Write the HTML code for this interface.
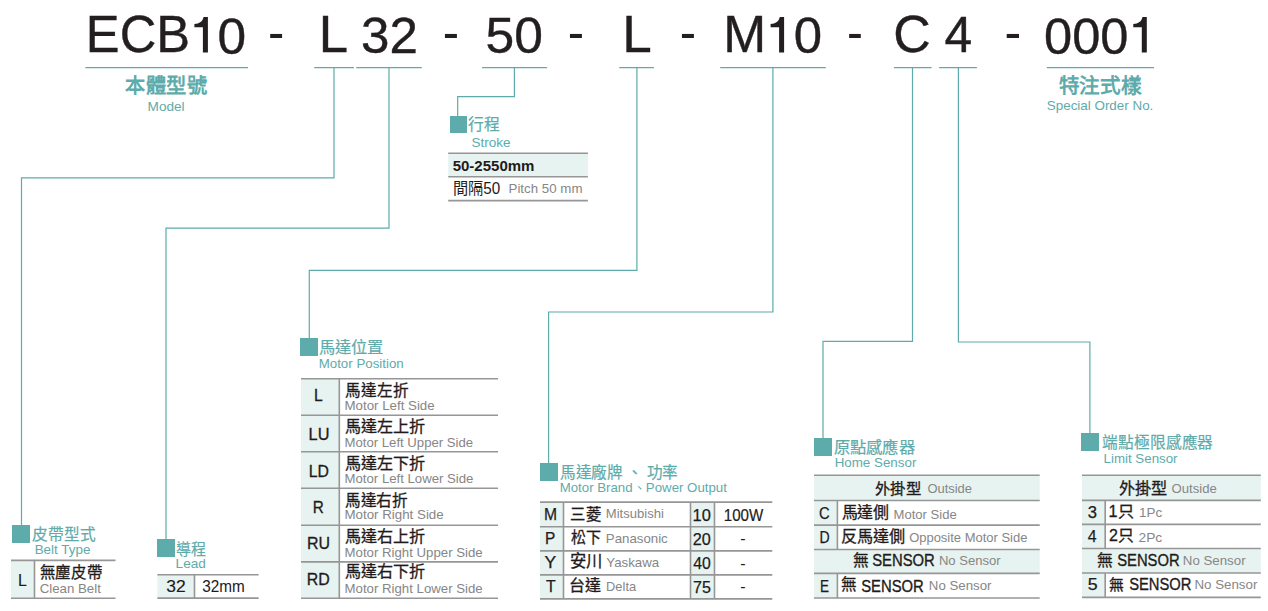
<!DOCTYPE html>
<html lang="zh-TW"><head><meta charset="utf-8"><title>ECB10</title><style>
html,body{margin:0;padding:0;background:#fff;width:1268px;height:611px;overflow:hidden}
svg{display:block;font-family:"Liberation Sans",sans-serif;white-space:pre}
</style></head><body>
<svg width="1268" height="611" viewBox="0 0 1268 611">
<g id="geo">
<rect x="11" y="560.4" width="23.5" height="37.8" fill="#e7f3f0"/>
<rect x="157.4" y="574.8" width="37.1" height="23.3" fill="#e7f3f0"/>
<rect x="448.2" y="153.3" width="139.7" height="23.4" fill="#e7f3f0"/>
<rect x="301" y="378.7" width="38.3" height="36.6" fill="#e7f3f0"/>
<rect x="301" y="415.3" width="38.3" height="36.4" fill="#e7f3f0"/>
<rect x="301" y="451.7" width="38.3" height="36.5" fill="#e7f3f0"/>
<rect x="301" y="488.2" width="38.3" height="37.0" fill="#e7f3f0"/>
<rect x="301" y="525.2" width="38.3" height="36.7" fill="#e7f3f0"/>
<rect x="301" y="561.9" width="38.3" height="36.3" fill="#e7f3f0"/>
<rect x="540" y="502.1" width="23.5" height="24.7" fill="#e7f3f0"/>
<rect x="540" y="526.8" width="23.5" height="24.1" fill="#e7f3f0"/>
<rect x="540" y="550.9" width="23.5" height="24.0" fill="#e7f3f0"/>
<rect x="540" y="574.9" width="23.5" height="24.0" fill="#e7f3f0"/>
<rect x="690.5" y="502.1" width="24.0" height="24.7" fill="#e7f3f0"/>
<rect x="690.5" y="526.8" width="24.0" height="24.1" fill="#e7f3f0"/>
<rect x="690.5" y="550.9" width="24.0" height="24.0" fill="#e7f3f0"/>
<rect x="690.5" y="574.9" width="24.0" height="24.0" fill="#e7f3f0"/>
<rect x="814" y="475.3" width="225.7" height="25.2" fill="#e7f3f0"/>
<rect x="814" y="549.5" width="225.7" height="23.9" fill="#e7f3f0"/>
<rect x="814" y="500.5" width="23.4" height="24.6" fill="#e7f3f0"/>
<rect x="814" y="525.1" width="23.4" height="24.4" fill="#e7f3f0"/>
<rect x="814" y="573.4" width="23.4" height="24.6" fill="#e7f3f0"/>
<rect x="1082" y="475.3" width="178.8" height="25.1" fill="#e7f3f0"/>
<rect x="1082" y="548.5" width="178.8" height="24.5" fill="#e7f3f0"/>
<rect x="1082" y="500.4" width="23.2" height="24.0" fill="#e7f3f0"/>
<rect x="1082" y="524.4" width="23.2" height="24.1" fill="#e7f3f0"/>
<rect x="1082" y="573" width="23.2" height="24.4" fill="#e7f3f0"/>
<line x1="34.5" y1="560.4" x2="34.5" y2="598.2" stroke="#969696" stroke-width="1.6"/>
<line x1="11" y1="560.4" x2="115.5" y2="560.4" stroke="#969696" stroke-width="1.6"/>
<line x1="11" y1="598.2" x2="115.5" y2="598.2" stroke="#969696" stroke-width="1.6"/>
<line x1="194.5" y1="574.8" x2="194.5" y2="598.1" stroke="#969696" stroke-width="1.6"/>
<line x1="157.4" y1="574.8" x2="258.6" y2="574.8" stroke="#969696" stroke-width="1.6"/>
<line x1="157.4" y1="598.1" x2="258.6" y2="598.1" stroke="#969696" stroke-width="1.6"/>
<line x1="448.2" y1="153.3" x2="587.9" y2="153.3" stroke="#969696" stroke-width="1.6"/>
<line x1="448.2" y1="176.7" x2="587.9" y2="176.7" stroke="#969696" stroke-width="1.6"/>
<line x1="448.2" y1="200.6" x2="587.9" y2="200.6" stroke="#969696" stroke-width="1.6"/>
<line x1="339.3" y1="378.7" x2="339.3" y2="415.3" stroke="#969696" stroke-width="1.6"/>
<line x1="339.3" y1="415.3" x2="339.3" y2="451.7" stroke="#969696" stroke-width="1.6"/>
<line x1="339.3" y1="451.7" x2="339.3" y2="488.2" stroke="#969696" stroke-width="1.6"/>
<line x1="339.3" y1="488.2" x2="339.3" y2="525.2" stroke="#969696" stroke-width="1.6"/>
<line x1="339.3" y1="525.2" x2="339.3" y2="561.9" stroke="#969696" stroke-width="1.6"/>
<line x1="339.3" y1="561.9" x2="339.3" y2="598.2" stroke="#969696" stroke-width="1.6"/>
<line x1="301" y1="378.7" x2="498" y2="378.7" stroke="#969696" stroke-width="1.6"/>
<line x1="301" y1="415.3" x2="498" y2="415.3" stroke="#969696" stroke-width="1.6"/>
<line x1="301" y1="451.7" x2="498" y2="451.7" stroke="#969696" stroke-width="1.6"/>
<line x1="301" y1="488.2" x2="498" y2="488.2" stroke="#969696" stroke-width="1.6"/>
<line x1="301" y1="525.2" x2="498" y2="525.2" stroke="#969696" stroke-width="1.6"/>
<line x1="301" y1="561.9" x2="498" y2="561.9" stroke="#969696" stroke-width="1.6"/>
<line x1="301" y1="598.2" x2="498" y2="598.2" stroke="#969696" stroke-width="1.6"/>
<line x1="563.5" y1="502.1" x2="563.5" y2="526.8" stroke="#969696" stroke-width="1.6"/>
<line x1="563.5" y1="526.8" x2="563.5" y2="550.9" stroke="#969696" stroke-width="1.6"/>
<line x1="563.5" y1="550.9" x2="563.5" y2="574.9" stroke="#969696" stroke-width="1.6"/>
<line x1="563.5" y1="574.9" x2="563.5" y2="598.9" stroke="#969696" stroke-width="1.6"/>
<line x1="690.5" y1="502.1" x2="690.5" y2="526.8" stroke="#969696" stroke-width="1.6"/>
<line x1="690.5" y1="526.8" x2="690.5" y2="550.9" stroke="#969696" stroke-width="1.6"/>
<line x1="690.5" y1="550.9" x2="690.5" y2="574.9" stroke="#969696" stroke-width="1.6"/>
<line x1="690.5" y1="574.9" x2="690.5" y2="598.9" stroke="#969696" stroke-width="1.6"/>
<line x1="714.5" y1="502.1" x2="714.5" y2="526.8" stroke="#969696" stroke-width="1.6"/>
<line x1="714.5" y1="526.8" x2="714.5" y2="550.9" stroke="#969696" stroke-width="1.6"/>
<line x1="714.5" y1="550.9" x2="714.5" y2="574.9" stroke="#969696" stroke-width="1.6"/>
<line x1="714.5" y1="574.9" x2="714.5" y2="598.9" stroke="#969696" stroke-width="1.6"/>
<line x1="540" y1="502.1" x2="772.3" y2="502.1" stroke="#969696" stroke-width="1.6"/>
<line x1="540" y1="526.8" x2="772.3" y2="526.8" stroke="#969696" stroke-width="1.6"/>
<line x1="540" y1="550.9" x2="772.3" y2="550.9" stroke="#969696" stroke-width="1.6"/>
<line x1="540" y1="574.9" x2="772.3" y2="574.9" stroke="#969696" stroke-width="1.6"/>
<line x1="540" y1="598.9" x2="772.3" y2="598.9" stroke="#969696" stroke-width="1.6"/>
<line x1="837.4" y1="500.5" x2="837.4" y2="525.1" stroke="#969696" stroke-width="1.6"/>
<line x1="837.4" y1="525.1" x2="837.4" y2="549.5" stroke="#969696" stroke-width="1.6"/>
<line x1="837.4" y1="573.4" x2="837.4" y2="598" stroke="#969696" stroke-width="1.6"/>
<line x1="814" y1="475.3" x2="1039.7" y2="475.3" stroke="#969696" stroke-width="1.6"/>
<line x1="814" y1="500.5" x2="1039.7" y2="500.5" stroke="#969696" stroke-width="1.6"/>
<line x1="814" y1="525.1" x2="1039.7" y2="525.1" stroke="#969696" stroke-width="1.6"/>
<line x1="814" y1="549.5" x2="1039.7" y2="549.5" stroke="#969696" stroke-width="1.6"/>
<line x1="814" y1="573.4" x2="1039.7" y2="573.4" stroke="#969696" stroke-width="1.6"/>
<line x1="814" y1="598" x2="1039.7" y2="598" stroke="#969696" stroke-width="1.6"/>
<line x1="1105.2" y1="500.4" x2="1105.2" y2="524.4" stroke="#969696" stroke-width="1.6"/>
<line x1="1105.2" y1="524.4" x2="1105.2" y2="548.5" stroke="#969696" stroke-width="1.6"/>
<line x1="1105.2" y1="573" x2="1105.2" y2="597.4" stroke="#969696" stroke-width="1.6"/>
<line x1="1082" y1="475.3" x2="1260.8" y2="475.3" stroke="#969696" stroke-width="1.6"/>
<line x1="1082" y1="500.4" x2="1260.8" y2="500.4" stroke="#969696" stroke-width="1.6"/>
<line x1="1082" y1="524.4" x2="1260.8" y2="524.4" stroke="#969696" stroke-width="1.6"/>
<line x1="1082" y1="548.5" x2="1260.8" y2="548.5" stroke="#969696" stroke-width="1.6"/>
<line x1="1082" y1="573" x2="1260.8" y2="573" stroke="#969696" stroke-width="1.6"/>
<line x1="1082" y1="597.4" x2="1260.8" y2="597.4" stroke="#969696" stroke-width="1.6"/>
<line x1="85.3" y1="67.6" x2="248" y2="67.6" stroke="#5eabab" stroke-width="1.3"/>
<line x1="314.2" y1="67.6" x2="353.9" y2="67.6" stroke="#5eabab" stroke-width="1.3"/>
<line x1="356.2" y1="67.6" x2="421.8" y2="67.6" stroke="#5eabab" stroke-width="1.3"/>
<line x1="482.1" y1="67.6" x2="547.1" y2="67.6" stroke="#5eabab" stroke-width="1.3"/>
<line x1="619.2" y1="67.6" x2="653.9" y2="67.6" stroke="#5eabab" stroke-width="1.3"/>
<line x1="720.2" y1="67.6" x2="825.8" y2="67.6" stroke="#5eabab" stroke-width="1.3"/>
<line x1="893.9" y1="67.6" x2="931.6" y2="67.6" stroke="#5eabab" stroke-width="1.3"/>
<line x1="939.1" y1="67.6" x2="976.9" y2="67.6" stroke="#5eabab" stroke-width="1.3"/>
<line x1="1046.8" y1="67.6" x2="1154" y2="67.6" stroke="#5eabab" stroke-width="1.3"/>
<polyline points="334,67.6 334,177.8 21.5,177.8 21.5,526" fill="none" stroke="#5eabab" stroke-width="1.2"/>
<polyline points="389,67.6 389,228.2 166,228.2 166,540" fill="none" stroke="#5eabab" stroke-width="1.2"/>
<polyline points="514.4,67.6 514.4,96.6 457.7,96.6 457.7,117" fill="none" stroke="#5eabab" stroke-width="1.2"/>
<polyline points="636.9,67.6 636.9,270.4 309.3,270.4 309.3,339" fill="none" stroke="#5eabab" stroke-width="1.2"/>
<polyline points="772.9,67.6 772.9,312 548.6,312 548.6,464" fill="none" stroke="#5eabab" stroke-width="1.2"/>
<polyline points="912.5,67.6 912.5,341.3 823,341.3 823,439" fill="none" stroke="#5eabab" stroke-width="1.2"/>
<polyline points="958.4,67.6 958.4,342 1089.9,342 1089.9,434" fill="none" stroke="#5eabab" stroke-width="1.2"/>
<rect x="12" y="525" width="18" height="18" fill="#5eabab"/>
<rect x="157" y="539" width="18" height="18" fill="#5eabab"/>
<rect x="450" y="116" width="17" height="17" fill="#5eabab"/>
<rect x="300" y="338" width="18" height="18" fill="#5eabab"/>
<rect x="540" y="463" width="18" height="18" fill="#5eabab"/>
<rect x="814" y="438" width="18" height="18" fill="#5eabab"/>
<rect x="1081" y="433" width="18" height="18" fill="#5eabab"/>
<path d="M203.6,17 L207.9,17 L207.9,52.5 L202.9,52.5 L202.9,27.2 L194.4,27.2 L194.4,23.9 C199.5,23.8 202.6,21.5 203.6,17 Z" fill="#231f20"/>
<path d="M779.8000000000001,17 L784.1,17 L784.1,52.5 L779.1,52.5 L779.1,27.2 L770.6,27.2 L770.6,23.9 C775.7,23.8 778.8000000000001,21.5 779.8000000000001,17 Z" fill="#231f20"/>
<path d="M1142.5,17 L1146.8,17 L1146.8,52.5 L1141.8,52.5 L1141.8,27.2 L1133.3,27.2 L1133.3,23.9 C1138.3999999999999,23.8 1141.5,21.5 1142.5,17 Z" fill="#231f20"/>
</g>
<g id="txt">
<text x="85.86" y="52.33" font-size="51.7" fill="#231f20" stroke="#231f20" stroke-width="0.4" textLength="104.21" lengthAdjust="spacingAndGlyphs">ECB</text>
<text x="217.41" y="53.52" font-size="49.5" fill="#231f20" stroke="#231f20" stroke-width="0.4" textLength="28.61" lengthAdjust="spacingAndGlyphs">0</text>
<text x="267.88" y="50.4" font-size="51" fill="#231f20" textLength="16.24" lengthAdjust="spacingAndGlyphs">-</text>
<text x="318.71" y="52.3" font-size="51.7" fill="#231f20" stroke="#231f20" stroke-width="0.4" textLength="29.25" lengthAdjust="spacingAndGlyphs">L</text>
<text x="361.14" y="52.67" font-size="49.5" fill="#231f20" stroke="#231f20" stroke-width="0.4" textLength="56.8" lengthAdjust="spacingAndGlyphs">32</text>
<text x="442.81" y="50.4" font-size="51" fill="#231f20" textLength="16.37" lengthAdjust="spacingAndGlyphs">-</text>
<text x="485.59" y="53.49" font-size="49.5" fill="#231f20" stroke="#231f20" stroke-width="0.4" textLength="57.38" lengthAdjust="spacingAndGlyphs">50</text>
<text x="567.67" y="50.4" font-size="51" fill="#231f20" textLength="16.37" lengthAdjust="spacingAndGlyphs">-</text>
<text x="622.29" y="52.3" font-size="51.7" fill="#231f20" stroke="#231f20" stroke-width="0.4" textLength="29.51" lengthAdjust="spacingAndGlyphs">L</text>
<text x="679.81" y="50.4" font-size="51" fill="#231f20" textLength="16.37" lengthAdjust="spacingAndGlyphs">-</text>
<text x="723.2" y="52.3" font-size="51.7" fill="#231f20" stroke="#231f20" stroke-width="0.4" textLength="42.9" lengthAdjust="spacingAndGlyphs">M</text>
<text x="793.7" y="52.54" font-size="49.5" fill="#231f20" stroke="#231f20" stroke-width="0.4" textLength="28.31" lengthAdjust="spacingAndGlyphs">0</text>
<text x="847.07" y="50.4" font-size="51" fill="#231f20" textLength="15.92" lengthAdjust="spacingAndGlyphs">-</text>
<text x="893.18" y="52.23" font-size="51.7" fill="#231f20" stroke="#231f20" stroke-width="0.4" textLength="37.46" lengthAdjust="spacingAndGlyphs">C</text>
<text x="944.62" y="52.0" font-size="49.5" fill="#231f20" stroke="#231f20" stroke-width="0.4" textLength="27.66" lengthAdjust="spacingAndGlyphs">4</text>
<text x="1004.43" y="50.4" font-size="51" fill="#231f20" textLength="16.71" lengthAdjust="spacingAndGlyphs">-</text>
<text x="1044.05" y="53.52" font-size="49.5" fill="#231f20" stroke="#231f20" stroke-width="0.4" textLength="84.44" lengthAdjust="spacingAndGlyphs">000</text>
<text x="125.14" y="92.7" font-size="20.62" fill="#5eabab" font-weight="700" textLength="82.5" lengthAdjust="spacingAndGlyphs">本體型號</text>
<text x="147.63" y="111.1" font-size="13" fill="#5eabab" textLength="36.99" lengthAdjust="spacingAndGlyphs">Model</text>
<text x="1058.61" y="92.77" font-size="20.79" fill="#5eabab" font-weight="700" textLength="83.17" lengthAdjust="spacingAndGlyphs">特注式樣</text>
<text x="1046.79" y="109.9" font-size="13" fill="#5eabab" textLength="106.54" lengthAdjust="spacingAndGlyphs">Special Order No.</text>
<text x="468.32" y="129.94" font-size="15.91" fill="#5eabab" stroke="#5eabab" stroke-width="0.2" textLength="31.82" lengthAdjust="spacingAndGlyphs">行程</text>
<text x="471.49" y="146.9" font-size="13" fill="#5eabab" textLength="39.03" lengthAdjust="spacingAndGlyphs">Stroke</text>
<text x="32.0" y="539.84" font-size="15.85" fill="#5eabab" stroke="#5eabab" stroke-width="0.2" textLength="63.39" lengthAdjust="spacingAndGlyphs">皮帶型式</text>
<text x="34.67" y="554.1" font-size="13" fill="#5eabab" textLength="55.78" lengthAdjust="spacingAndGlyphs">Belt Type</text>
<text x="175.99" y="555.07" font-size="15.5" fill="#5eabab" stroke="#5eabab" stroke-width="0.2" textLength="31.0" lengthAdjust="spacingAndGlyphs">導程</text>
<text x="175.62" y="568.23" font-size="13" fill="#5eabab" textLength="30.24" lengthAdjust="spacingAndGlyphs">Lead</text>
<text x="318.9" y="353.28" font-size="16.12" fill="#5eabab" stroke="#5eabab" stroke-width="0.2" textLength="64.5" lengthAdjust="spacingAndGlyphs">馬達位置</text>
<text x="318.68" y="368.2" font-size="13" fill="#5eabab" textLength="85.07" lengthAdjust="spacingAndGlyphs">Motor Position</text>
<text x="559.92" y="478.02" font-size="16" fill="#5eabab" stroke="#5eabab" stroke-width="0.2" textLength="117.87" lengthAdjust="spacingAndGlyphs">馬達廠牌 、 功率</text>
<text x="559.68" y="492.28" font-size="13" fill="#5eabab" textLength="167.24" lengthAdjust="spacingAndGlyphs">Motor Brand、Power Output</text>
<text x="833.85" y="453.11" font-size="16.17" fill="#5eabab" stroke="#5eabab" stroke-width="0.2" textLength="80.87" lengthAdjust="spacingAndGlyphs">原點感應器</text>
<text x="834.68" y="466.9" font-size="13" fill="#5eabab" textLength="81.66" lengthAdjust="spacingAndGlyphs">Home Sensor</text>
<text x="1102.32" y="447.73" font-size="15.85" fill="#5eabab" stroke="#5eabab" stroke-width="0.2" textLength="110.94" lengthAdjust="spacingAndGlyphs">端點極限感應器</text>
<text x="1103.55" y="462.8" font-size="13" fill="#5eabab" textLength="73.98" lengthAdjust="spacingAndGlyphs">Limit Sensor</text>
<text x="17.93" y="585.5" font-size="16" fill="#1f1b1c" stroke="#1f1b1c" stroke-width="0.15" textLength="8.8" lengthAdjust="spacingAndGlyphs">L</text>
<text x="39.68" y="578.45" font-size="15.71" fill="#1f1b1c" stroke="#1f1b1c" stroke-width="0.3" textLength="62.84" lengthAdjust="spacingAndGlyphs">無塵皮帶</text>
<text x="39.66" y="593.2" font-size="13" fill="#868686" textLength="61.2" lengthAdjust="spacingAndGlyphs">Clean Belt</text>
<text x="166.39" y="592.1" font-size="16" fill="#1f1b1c" stroke="#1f1b1c" stroke-width="0.15" textLength="19.4" lengthAdjust="spacingAndGlyphs">32</text>
<text x="202.25" y="591.6" font-size="16" fill="#1f1b1c" stroke="#1f1b1c" stroke-width="0.05" textLength="42.52" lengthAdjust="spacingAndGlyphs">32mm</text>
<text x="452.67" y="170.6" font-size="15" fill="#1f1b1c" font-weight="700" textLength="81.81" lengthAdjust="spacingAndGlyphs">50-2550mm</text>
<text x="452.55" y="193.7" font-size="15.8" fill="#1f1b1c" textLength="47.68" lengthAdjust="spacingAndGlyphs">間隔50</text>
<text x="508.5" y="193.4" font-size="13" fill="#868686" textLength="73.97" lengthAdjust="spacingAndGlyphs">Pitch 50 mm</text>
<text x="314.04" y="400.76" font-size="16" fill="#1f1b1c" stroke="#1f1b1c" stroke-width="0.3" textLength="8.67" lengthAdjust="spacingAndGlyphs">L</text>
<text x="345.11" y="396.22" font-size="15.8" fill="#1f1b1c" stroke="#1f1b1c" stroke-width="0.3" textLength="63.21" lengthAdjust="spacingAndGlyphs">馬達左折</text>
<text x="344.5" y="410.3" font-size="13" fill="#868686" textLength="90.11" lengthAdjust="spacingAndGlyphs">Motor Left Side</text>
<text x="308.6" y="439.96" font-size="16" fill="#1f1b1c" stroke="#1f1b1c" stroke-width="0.3" textLength="20.81" lengthAdjust="spacingAndGlyphs">LU</text>
<text x="344.86" y="431.95" font-size="16.04" fill="#1f1b1c" stroke="#1f1b1c" stroke-width="0.3" textLength="80.19" lengthAdjust="spacingAndGlyphs">馬達左上折</text>
<text x="344.56" y="447.0" font-size="13" fill="#868686" textLength="128.56" lengthAdjust="spacingAndGlyphs">Motor Left Upper Side</text>
<text x="308.84" y="476.8" font-size="16" fill="#1f1b1c" stroke="#1f1b1c" stroke-width="0.3" textLength="20.17" lengthAdjust="spacingAndGlyphs">LD</text>
<text x="344.86" y="469.15" font-size="16.04" fill="#1f1b1c" stroke="#1f1b1c" stroke-width="0.3" textLength="80.19" lengthAdjust="spacingAndGlyphs">馬達左下折</text>
<text x="344.56" y="482.7" font-size="13" fill="#868686" textLength="128.91" lengthAdjust="spacingAndGlyphs">Motor Left Lower Side</text>
<text x="312.78" y="513.36" font-size="16" fill="#1f1b1c" stroke="#1f1b1c" stroke-width="0.3" textLength="11.05" lengthAdjust="spacingAndGlyphs">R</text>
<text x="344.86" y="505.66" font-size="15.79" fill="#1f1b1c" stroke="#1f1b1c" stroke-width="0.3" textLength="63.17" lengthAdjust="spacingAndGlyphs">馬達右折</text>
<text x="344.5" y="519.2" font-size="13" fill="#868686" textLength="99.15" lengthAdjust="spacingAndGlyphs">Motor Right Side</text>
<text x="307.0" y="549.27" font-size="16" fill="#1f1b1c" stroke="#1f1b1c" stroke-width="0.3" textLength="23.04" lengthAdjust="spacingAndGlyphs">RU</text>
<text x="344.86" y="542.05" font-size="16.04" fill="#1f1b1c" stroke="#1f1b1c" stroke-width="0.3" textLength="80.19" lengthAdjust="spacingAndGlyphs">馬達右上折</text>
<text x="344.54" y="556.7" font-size="13" fill="#868686" textLength="138.15" lengthAdjust="spacingAndGlyphs">Motor Right Upper Side</text>
<text x="306.73" y="584.8" font-size="16" fill="#1f1b1c" stroke="#1f1b1c" stroke-width="0.3" textLength="22.99" lengthAdjust="spacingAndGlyphs">RD</text>
<text x="344.86" y="577.25" font-size="16.04" fill="#1f1b1c" stroke="#1f1b1c" stroke-width="0.3" textLength="80.19" lengthAdjust="spacingAndGlyphs">馬達右下折</text>
<text x="344.54" y="593.3" font-size="13" fill="#868686" textLength="138.15" lengthAdjust="spacingAndGlyphs">Motor Right Lower Side</text>
<text x="544.01" y="519.84" font-size="16" fill="#1f1b1c" stroke="#1f1b1c" stroke-width="0.25" textLength="13.05" lengthAdjust="spacingAndGlyphs">M</text>
<text x="570.16" y="519.51" font-size="15.68" fill="#1f1b1c" stroke="#1f1b1c" stroke-width="0.3" textLength="31.37" lengthAdjust="spacingAndGlyphs">三菱</text>
<text x="605.85" y="518.31" font-size="13" fill="#868686" textLength="58.05" lengthAdjust="spacingAndGlyphs">Mitsubishi</text>
<text x="692.51" y="520.57" font-size="16" fill="#1f1b1c" stroke="#1f1b1c" stroke-width="0.25" textLength="18.27" lengthAdjust="spacingAndGlyphs">10</text>
<text x="545.06" y="544.42" font-size="16" fill="#1f1b1c" stroke="#1f1b1c" stroke-width="0.25" textLength="10.24" lengthAdjust="spacingAndGlyphs">P</text>
<text x="570.92" y="543.29" font-size="15.51" fill="#1f1b1c" stroke="#1f1b1c" stroke-width="0.3" textLength="31.02" lengthAdjust="spacingAndGlyphs">松下</text>
<text x="605.8" y="542.9" font-size="13" fill="#868686" textLength="61.95" lengthAdjust="spacingAndGlyphs">Panasonic</text>
<text x="692.82" y="544.87" font-size="16" fill="#1f1b1c" stroke="#1f1b1c" stroke-width="0.25" textLength="18.04" lengthAdjust="spacingAndGlyphs">20</text>
<text x="544.6" y="568.43" font-size="16" fill="#1f1b1c" stroke="#1f1b1c" stroke-width="0.25" textLength="11.66" lengthAdjust="spacingAndGlyphs">Y</text>
<text x="569.65" y="567.22" font-size="16.67" fill="#1f1b1c" stroke="#1f1b1c" stroke-width="0.3" textLength="33.34" lengthAdjust="spacingAndGlyphs">安川</text>
<text x="606.27" y="567.27" font-size="13" fill="#868686" textLength="52.83" lengthAdjust="spacingAndGlyphs">Yaskawa</text>
<text x="693.34" y="568.71" font-size="16" fill="#1f1b1c" stroke="#1f1b1c" stroke-width="0.25" textLength="17.52" lengthAdjust="spacingAndGlyphs">40</text>
<text x="545.88" y="592.43" font-size="16" fill="#1f1b1c" stroke="#1f1b1c" stroke-width="0.25" textLength="9.72" lengthAdjust="spacingAndGlyphs">T</text>
<text x="569.47" y="591.07" font-size="15.99" fill="#1f1b1c" stroke="#1f1b1c" stroke-width="0.3" textLength="31.99" lengthAdjust="spacingAndGlyphs">台達</text>
<text x="606.1" y="591.2" font-size="13" fill="#868686" textLength="30.01" lengthAdjust="spacingAndGlyphs">Delta</text>
<text x="692.95" y="592.84" font-size="16" fill="#1f1b1c" stroke="#1f1b1c" stroke-width="0.25" textLength="17.88" lengthAdjust="spacingAndGlyphs">75</text>
<text x="723.82" y="521.1" font-size="16" fill="#1f1b1c" stroke="#1f1b1c" stroke-width="0.2" textLength="39.44" lengthAdjust="spacingAndGlyphs">100W</text>
<text x="740.25" y="544.0" font-size="16" fill="#1f1b1c" textLength="5.35" lengthAdjust="spacingAndGlyphs">-</text>
<text x="740.25" y="568.7" font-size="16" fill="#1f1b1c" textLength="5.35" lengthAdjust="spacingAndGlyphs">-</text>
<text x="740.25" y="592.3" font-size="16" fill="#1f1b1c" textLength="5.35" lengthAdjust="spacingAndGlyphs">-</text>
<text x="875.14" y="493.59" font-size="15.2" fill="#1f1b1c" stroke="#1f1b1c" stroke-width="0.3" textLength="45.6" lengthAdjust="spacingAndGlyphs">外掛型</text>
<text x="927.4" y="493.3" font-size="13" fill="#868686" textLength="44.65" lengthAdjust="spacingAndGlyphs">Outside</text>
<text x="819.03" y="518.9" font-size="16" fill="#1f1b1c" stroke="#1f1b1c" stroke-width="0.25" textLength="10.7" lengthAdjust="spacingAndGlyphs">C</text>
<text x="841.72" y="518.0" font-size="15.45" fill="#1f1b1c" stroke="#1f1b1c" stroke-width="0.3" textLength="46.34" lengthAdjust="spacingAndGlyphs">馬達側</text>
<text x="893.58" y="518.5" font-size="13" fill="#868686" textLength="63.1" lengthAdjust="spacingAndGlyphs">Motor Side</text>
<text x="819.46" y="542.67" font-size="16" fill="#1f1b1c" stroke="#1f1b1c" stroke-width="0.25" textLength="10.15" lengthAdjust="spacingAndGlyphs">D</text>
<text x="840.88" y="541.78" font-size="16.06" fill="#1f1b1c" stroke="#1f1b1c" stroke-width="0.3" textLength="64.25" lengthAdjust="spacingAndGlyphs">反馬達側</text>
<text x="909.13" y="541.5" font-size="13" fill="#868686" textLength="118.32" lengthAdjust="spacingAndGlyphs">Opposite Motor Side</text>
<text x="853.02" y="566.05" font-size="15.92" fill="#1f1b1c" stroke="#1f1b1c" stroke-width="0.3" textLength="15.92" lengthAdjust="spacingAndGlyphs">無</text>
<text x="872.18" y="566.1" font-size="16" fill="#1f1b1c" stroke="#1f1b1c" stroke-width="0.35" textLength="62.61" lengthAdjust="spacingAndGlyphs">SENSOR</text>
<text x="938.93" y="565.1" font-size="13" fill="#868686" textLength="61.81" lengthAdjust="spacingAndGlyphs">No Sensor</text>
<text x="819.97" y="591.77" font-size="16" fill="#1f1b1c" stroke="#1f1b1c" stroke-width="0.25" textLength="8.97" lengthAdjust="spacingAndGlyphs">E</text>
<text x="841.47" y="590.47" font-size="15.86" fill="#1f1b1c" stroke="#1f1b1c" stroke-width="0.3" textLength="15.86" lengthAdjust="spacingAndGlyphs">無</text>
<text x="861.18" y="591.7" font-size="16" fill="#1f1b1c" stroke="#1f1b1c" stroke-width="0.35" textLength="62.61" lengthAdjust="spacingAndGlyphs">SENSOR</text>
<text x="928.87" y="590.2" font-size="13" fill="#868686" textLength="62.63" lengthAdjust="spacingAndGlyphs">No Sensor</text>
<text x="1118.62" y="493.98" font-size="16.09" fill="#1f1b1c" stroke="#1f1b1c" stroke-width="0.3" textLength="48.26" lengthAdjust="spacingAndGlyphs">外掛型</text>
<text x="1171.59" y="493.3" font-size="13" fill="#868686" textLength="45.31" lengthAdjust="spacingAndGlyphs">Outside</text>
<text x="1087.78" y="517.97" font-size="16" fill="#1f1b1c" stroke="#1f1b1c" stroke-width="0.25" textLength="9.25" lengthAdjust="spacingAndGlyphs">3</text>
<text x="1108.52" y="516.65" font-size="15.8" fill="#1f1b1c" stroke="#1f1b1c" stroke-width="0.3" textLength="25.43" lengthAdjust="spacingAndGlyphs">1只</text>
<text x="1139.04" y="517.2" font-size="13" fill="#868686" textLength="23.16" lengthAdjust="spacingAndGlyphs">1Pc</text>
<text x="1087.82" y="542.45" font-size="16" fill="#1f1b1c" stroke="#1f1b1c" stroke-width="0.25" textLength="8.85" lengthAdjust="spacingAndGlyphs">4</text>
<text x="1109.05" y="541.34" font-size="15.8" fill="#1f1b1c" stroke="#1f1b1c" stroke-width="0.3" textLength="25.05" lengthAdjust="spacingAndGlyphs">2只</text>
<text x="1138.56" y="542.0" font-size="13" fill="#868686" textLength="23.64" lengthAdjust="spacingAndGlyphs">2Pc</text>
<text x="1097.02" y="565.65" font-size="15.92" fill="#1f1b1c" stroke="#1f1b1c" stroke-width="0.3" textLength="15.92" lengthAdjust="spacingAndGlyphs">無</text>
<text x="1117.18" y="565.7" font-size="16" fill="#1f1b1c" stroke="#1f1b1c" stroke-width="0.35" textLength="62.4" lengthAdjust="spacingAndGlyphs">SENSOR</text>
<text x="1182.8" y="565.3" font-size="13" fill="#868686" textLength="62.79" lengthAdjust="spacingAndGlyphs">No Sensor</text>
<text x="1087.81" y="589.76" font-size="16" fill="#1f1b1c" stroke="#1f1b1c" stroke-width="0.25" textLength="9.89" lengthAdjust="spacingAndGlyphs">5</text>
<text x="1109.32" y="590.24" font-size="14.94" fill="#1f1b1c" stroke="#1f1b1c" stroke-width="0.3" textLength="14.94" lengthAdjust="spacingAndGlyphs">無</text>
<text x="1129.21" y="589.8" font-size="16" fill="#1f1b1c" stroke="#1f1b1c" stroke-width="0.35" textLength="62.22" lengthAdjust="spacingAndGlyphs">SENSOR</text>
<text x="1194.44" y="589.3" font-size="13" fill="#868686" textLength="62.89" lengthAdjust="spacingAndGlyphs">No Sensor</text>
</g>
</svg>
</body></html>
